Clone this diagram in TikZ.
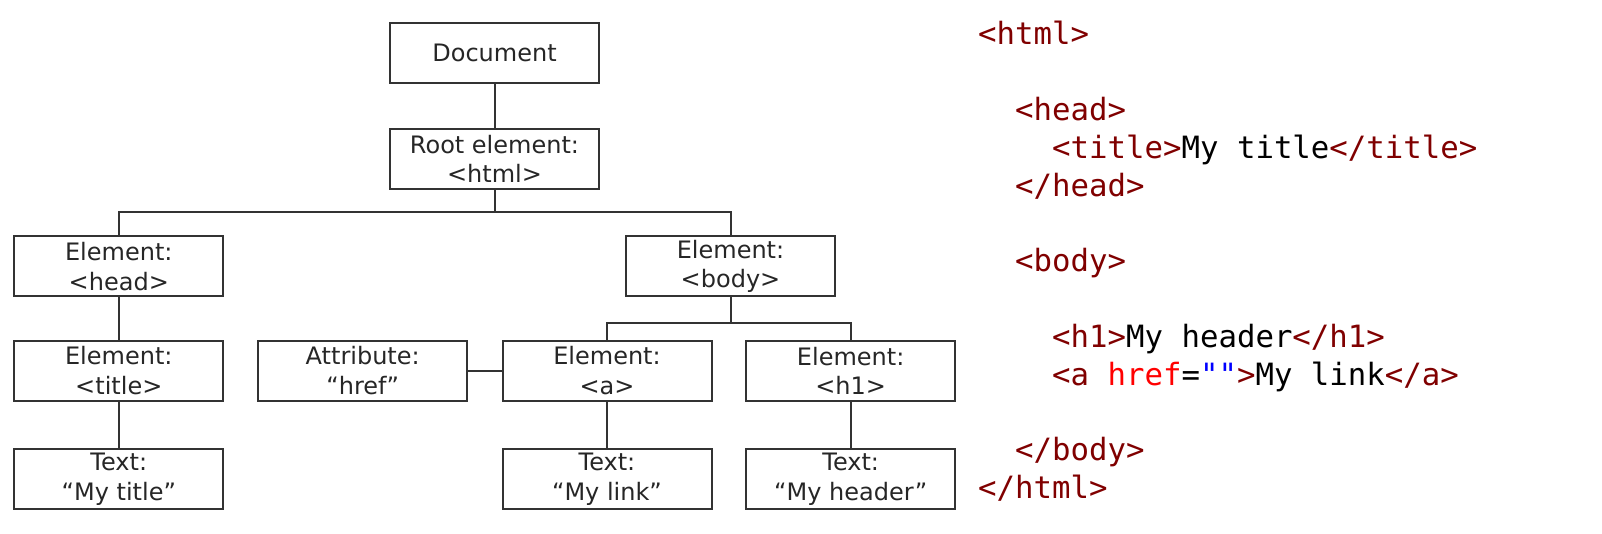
\documentclass[tikz,border=0pt]{standalone}
\usepackage{fontspec}
\setmainfont{DejaVu Sans}
\newfontfamily\codefont{DejaVu Sans Mono}
\definecolor{tagred}{HTML}{800000}
\definecolor{attrred}{HTML}{FF0000}
\definecolor{strblue}{HTML}{0000FF}
\definecolor{boxgray}{HTML}{333333}
\newcommand{\tg}[1]{\textcolor{tagred}{#1}}

\begin{document}
\begin{tikzpicture}[x=1pt,y=-1pt,
    domnode/.style={rectangle,draw=boxgray,line width=2pt,minimum width=209pt,minimum height=60pt,
      align=center,inner sep=0pt,text=black!85,font=\fontsize{24}{29.5}\selectfont},
    conn/.style={draw=boxgray,line width=2pt},
    codeline/.style={anchor=base west,inner sep=0pt,font=\codefont\fontsize{30.7}{37.8}\selectfont}]
        \useasboundingbox (0,0) rectangle (1602,534);
        % DOM tree
        \node[domnode] (doc) at (494.5,52.8) {Document};
        \node[domnode] (root) at (494.5,159) {Root element:\\<html>};
        \node[domnode] (head) at (118.8,266.5) {Element:\\<head>};
        \node[domnode] (body) at (730.5,266.5) {Element:\\<body>};
        \node[domnode] (title) at (118.8,370.7) {Element:\\<title>};
        \node[domnode] (attr) at (362.7,370.7) {Attribute:\\“href”};
        \node[domnode] (a) at (607,370.7) {Element:\\<a>};
        \node[domnode] (h1) at (850.7,370.7) {Element:\\<h1>};
        \node[domnode] (txttitle) at (118.8,479) {Text:\\“My title”};
        \node[domnode] (txtlink) at (607,479) {Text:\\“My link”};
        \node[domnode] (txtheader) at (850.7,479) {Text:\\“My header”};
        \draw[conn] (doc) -- (root);
        \draw[conn] (root.south) -- ++(0,22) -| (head.north);
        \draw[conn] (root.south) -- ++(0,22) -| (body.north);
        \draw[conn] (head) -- (title);
        \draw[conn] (title) -- (txttitle);
        \draw[conn] (body.south) -- ++(0,25.5) -| (a.north);
        \draw[conn] (body.south) -- ++(0,25.5) -| (h1.north);
        \draw[conn] (attr) -- (a);
        \draw[conn] (a) -- (txtlink);
        \draw[conn] (h1) -- (txtheader);
        % HTML source
        \node[codeline] (lhtml) at (978,45) {\tg{<html>}};
        \node[codeline] (lhead) at (1015,120.6) {\tg{<head>}};
        \node[codeline] (ltitle) at (1052,158.4) {\tg{<title>}My title\tg{</title>}};
        \node[codeline] (lheadend) at (1015,196.2) {\tg{</head>}};
        \node[codeline] (lbody) at (1015,271.8) {\tg{<body>}};
        \node[codeline] (lh1) at (1052,347.4) {\tg{<h1>}My header\tg{</h1>}};
        \node[codeline] (la) at (1052,385.2) {\tg{<a }\textcolor{attrred}{href}=\textcolor{strblue}{\textquotedbl\textquotedbl}\tg{>}My link\tg{</a>}};
        \node[codeline] (lbodyend) at (1015,460.8) {\tg{</body>}};
        \node[codeline] (lhtmlend) at (978,498.6) {\tg{</html>}};
\end{tikzpicture}
\end{document}
